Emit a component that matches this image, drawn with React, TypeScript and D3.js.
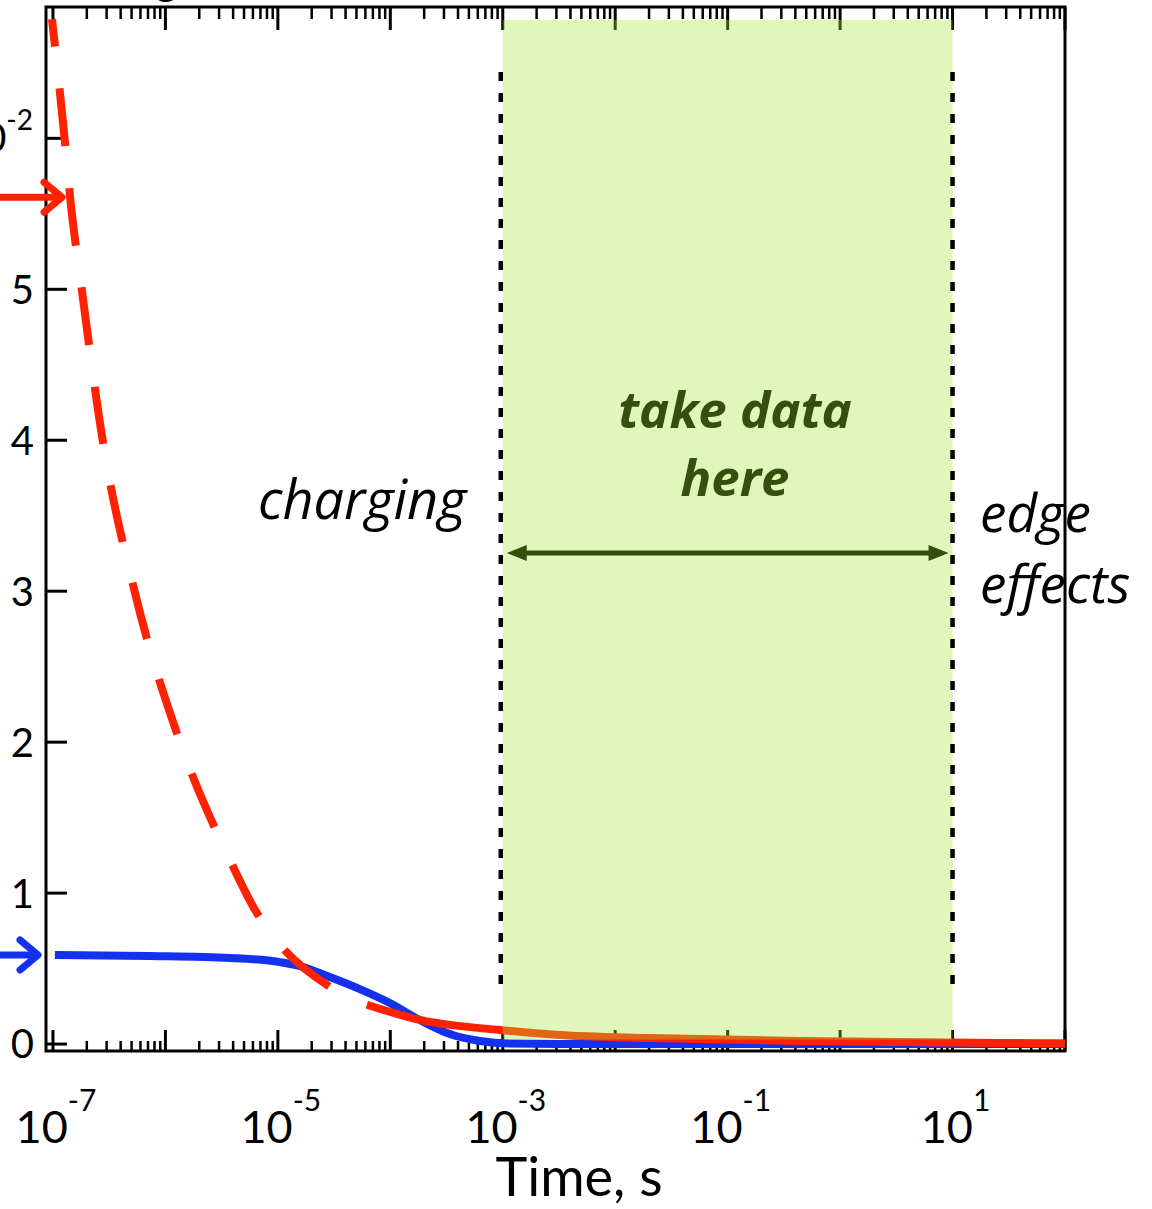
import React, { useRef, useEffect } from "react";
import * as d3 from "d3";

// red curve (dashed at early times, solid later)
const redTimes = [9.8e-8, 1.28e-7, 1.42e-7, 1.81e-7, 2.78e-7, 5.36e-7, 1.35e-6, 3.74e-6, 6.25e-6, 1.04e-5, 2.9e-5, 6.18e-5, 1.83e-4, 9.4e-4, 3.2e-3, 0.0203, 0.436, 26.2, 100];
const redValues = [6.79, 5.97, 5.61, 4.99, 3.99, 2.99, 2.0, 1.22, 0.89, 0.66, 0.38, 0.26, 0.16, 0.093, 0.06, 0.04, 0.02, 0.007, 0.005];
const redSolidFrom = 6.18e-5;

// blue curve
const blueTimes = [1.04e-7, 7.28e-7, 3.74e-6, 1.04e-5, 1.57e-5, 2.9e-5, 5.36e-5, 9.9e-5, 1.83e-4, 3.38e-4, 6.25e-4, 1.15e-3, 3.2e-3, 0.1, 100];
const blueValues = [0.59, 0.583, 0.57, 0.543, 0.517, 0.444, 0.364, 0.272, 0.159, 0.066, 0.02, 0.003, 0, 0, 0];

// arrows marking the starting values
const arrowValues = [5.61, 0.59];
const arrowColors = ["#ff2200", "#1530ee"];

const yTicks = [0, 1, 2, 3, 4, 5];
const xLabelExps = [-7, -5, -3, -1, 1];
const windowRange = [1e-3, 10];

const W = 1152;
const H = 1209;
const left = 46, right = 1065, top = 7, bottom = 1051;
const sans = "Lato, 'DejaVu Sans', sans-serif";
const note = "'Open Sans', 'Noto Sans', sans-serif";

export default function App() {
  const dashRef = useRef<SVGPathElement>(null);

  const x = d3.scaleLog().domain([Math.pow(10, -7.062), 100]).range([left, right]);
  const y = d3.scaleLinear().domain([-0.046, 6.87]).range([bottom, top]);

  const line = d3
    .line<[number, number]>()
    .x((d) => x(d[0]))
    .y((d) => y(d[1]))
    .curve(d3.curveMonotoneX);

  const red = redTimes.map((t, i) => [t, redValues[i]] as [number, number]);
  const blue = blueTimes.map((t, i) => [t, blueValues[i]] as [number, number]);
  const redDashed = red.filter((d) => d[0] <= redSolidFrom);
  const redSolid = red.filter((d) => d[0] >= redSolidFrom);

  useEffect(() => {
    // line the dash pattern up so the dashed part ends on a gap
    const p = dashRef.current;
    if (!p) return;
    const L = p.getTotalLength();
    const period = 58 + 42;
    const off = (period - (L % period)) % period;
    d3.select(p).attr("stroke-dashoffset", off);
  }, []);

  const decades = d3.range(-7, 3).map((e) => Math.pow(10, e));
  const minors: number[] = [];
  d3.range(-7, 2).forEach((e) => {
    for (let k = 2; k <= 9; k++) minors.push(k * Math.pow(10, e));
  });

  const gx0 = x(windowRange[0]);
  const gx1 = x(windowRange[1]);
  const arrowY = 553;

  return (
    <svg width={W} height={H} style={{ position: "absolute", left: 0, top: 0, background: "#fff" }}>
      {/* cut-off title */}
      <text x={155} y={-6} fontFamily={sans} fontSize={44}>g</text>

      {/* frame */}
      <rect x={left} y={top} width={right - left} height={bottom - top} fill="none" stroke="#000" strokeWidth={3} />

      {/* x ticks, bottom and top */}
      {decades.map((d, i) => (
        <g key={"M" + i}>
          <line x1={x(d)} x2={x(d)} y1={bottom} y2={bottom - 21} stroke="#000" strokeWidth={3} />
          <line x1={x(d)} x2={x(d)} y1={top} y2={top + 23} stroke="#000" strokeWidth={3} />
        </g>
      ))}
      {minors.map((d, i) => (
        <g key={"m" + i}>
          <line x1={x(d)} x2={x(d)} y1={bottom} y2={bottom - 10} stroke="#000" strokeWidth={2.5} />
          <line x1={x(d)} x2={x(d)} y1={top} y2={top + 12} stroke="#000" strokeWidth={2.5} />
        </g>
      ))}

      {/* y ticks */}
      {yTicks.concat([6]).map((v) => (
        <line key={"y" + v} x1={left} x2={left + 21} y1={y(v)} y2={y(v)} stroke="#000" strokeWidth={3} />
      ))}
      {yTicks.map((v) => (
        <text key={"yl" + v} x={34} y={y(v)} dy="0.36em" textAnchor="end" fontFamily={sans} fontSize={40}>
          {v}
        </text>
      ))}
      <text x={33} y={y(6) + 14} textAnchor="end" fontFamily={sans} fontSize={40}>
        10<tspan dy={-22} fontSize={28}>-2</tspan>
      </text>

      {/* x labels */}
      {xLabelExps.map((e) => (
        <text key={"xl" + e} x={x(Math.pow(10, e)) + 3} y={1143} textAnchor="middle" fontFamily={sans} fontSize={45}>
          10<tspan dy={-32} fontSize={30}>{e}</tspan>
        </text>
      ))}
      <text x={579} y={1196} textAnchor="middle" fontFamily={sans} fontSize={54}>Time, s</text>

      {/* curves */}
      <path d={line(blue) || ""} fill="none" stroke="#1530ee" strokeWidth={8} />
      <path ref={dashRef} d={line(redDashed) || ""} fill="none" stroke="#ff2200" strokeWidth={8} strokeDasharray="58,42" />
      <path d={line(redSolid) || ""} fill="none" stroke="#ff2200" strokeWidth={8} />

      {/* data window */}
      <rect x={gx0} y={20} width={gx1 - gx0} height={y(0.03) - 20} fill="#a8e63c" fillOpacity={0.35} />
      {[gx0 - 2, gx1].map((gx, i) => (
        <line key={"d" + i} x1={gx} x2={gx} y1={72} y2={996} stroke="#000" strokeWidth={4.5} strokeDasharray="9,12" />
      ))}

      {/* double arrow */}
      <line x1={gx0 + 20} x2={gx1 - 20} y1={arrowY} y2={arrowY} stroke="#344f0a" strokeWidth={5} />
      <path d={`M${gx0 + 4},${arrowY} L${gx0 + 24},${arrowY - 8} L${gx0 + 24},${arrowY + 8} Z`} fill="#344f0a" />
      <path d={`M${gx1 - 4},${arrowY} L${gx1 - 24},${arrowY - 8} L${gx1 - 24},${arrowY + 8} Z`} fill="#344f0a" />

      {/* start-value arrows */}
      {arrowValues.map((v, i) => {
        const tip = i === 0 ? 62 : 38;
        const yy = y(v);
        return (
          <g key={"a" + i} stroke={arrowColors[i]} strokeWidth={7} fill="none" strokeLinecap="round">
            <line x1={-10} x2={tip - 2} y1={yy} y2={yy} />
            <path d={`M${tip - 18},${yy - 15} L${tip},${yy} L${tip - 18},${yy + 15}`} strokeLinejoin="round" />
          </g>
        );
      })}

      {/* annotations */}
      <text x={735} y={428} textAnchor="middle" fontFamily={note} fontStyle="italic" fontWeight="bold" fontSize={51} fill="#34500c">take data</text>
      <text x={735} y={496} textAnchor="middle" fontFamily={note} fontStyle="italic" fontWeight="bold" fontSize={51} fill="#34500c">here</text>
      <text x={258} y={519} fontFamily={note} fontStyle="italic" fontSize={54}>charging</text>
      <text x={980} y={532} fontFamily={note} fontStyle="italic" fontSize={53}>edge</text>
      <text x={980} y={603} fontFamily={note} fontStyle="italic" fontSize={53}>effects</text>
    </svg>
  );
}
